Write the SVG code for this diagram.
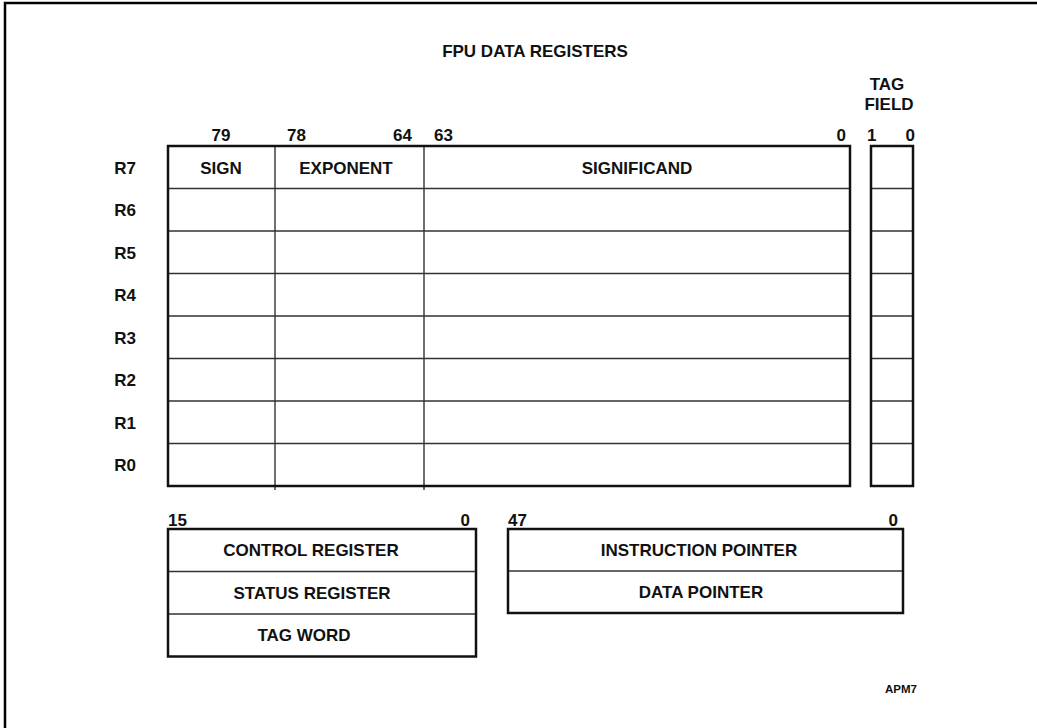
<svg xmlns="http://www.w3.org/2000/svg" width="1037" height="728" viewBox="0 0 1037 728">
<style>
text{font-family:"Liberation Sans",Arial,sans-serif;font-weight:bold;font-size:17px;fill:#111}
.m{text-anchor:middle}
.e{text-anchor:end}
.box{fill:none;stroke:#111;stroke-width:2.5}
.in{stroke:#333;stroke-width:1.4;fill:none}
.small{font-size:11.5px}
</style>
<rect width="1037" height="728" fill="#fff"/>
<g id="frame"><path d="M5 728 V3 H1037" fill="none" stroke="#000" stroke-width="2.5"/></g>
<text id="title" class="m" x="535" y="57">FPU DATA REGISTERS</text>
<g id="bit-labels">
<text class="m" x="221" y="141">79</text>
<text x="287" y="141">78</text>
<text class="e" x="412" y="141">64</text>
<text x="434" y="141">63</text>
<text class="e" x="846" y="141">0</text>
<text x="867" y="141">1</text>
<text class="e" x="915" y="141">0</text>
</g>
<g id="tag-field-label">
<text class="m" x="887" y="90">TAG</text>
<text class="m" x="889" y="110">FIELD</text>
</g>
<g id="row-labels">
<text class="m" x="125" y="173.5">R7</text>
<text class="m" x="125" y="216">R6</text>
<text class="m" x="125" y="258.5">R5</text>
<text class="m" x="125" y="301">R4</text>
<text class="m" x="125" y="343.5">R3</text>
<text class="m" x="125" y="386">R2</text>
<text class="m" x="125" y="428.5">R1</text>
<text class="m" x="125" y="471">R0</text>
</g>
<g id="data-registers">
<path class="in" d="M168 188.5H850M168 231H850M168 273.5H850M168 316H850M168 358.5H850M168 401H850M168 443.5H850"/>
<path class="in" d="M275 146V490M424 146V490"/>
<rect class="box" x="168" y="146" width="682" height="340"/>
<text class="m" x="221" y="173.5">SIGN</text>
<text class="m" x="346" y="173.5">EXPONENT</text>
<text class="m" x="637" y="173.5">SIGNIFICAND</text>
</g>
<g id="tag-field">
<path class="in" d="M871 188.5H913M871 231H913M871 273.5H913M871 316H913M871 358.5H913M871 401H913M871 443.5H913"/>
<rect class="box" x="871" y="146" width="42" height="340"/>
</g>
<g id="control-box">
<text x="168" y="526">15</text>
<text class="e" x="470" y="526">0</text>
<path class="in" d="M168 571.5H476M168 614H476"/>
<rect class="box" x="168" y="529" width="308" height="127.5"/>
<text class="m" x="311" y="556">CONTROL REGISTER</text>
<text class="m" x="312" y="598.5">STATUS REGISTER</text>
<text class="m" x="304" y="641">TAG WORD</text>
</g>
<g id="pointer-box">
<text x="508" y="526">47</text>
<text class="e" x="898" y="526">0</text>
<path class="in" d="M508 571H903"/>
<rect class="box" x="508" y="529" width="395" height="84"/>
<text class="m" x="699" y="556">INSTRUCTION POINTER</text>
<text class="m" x="701" y="598">DATA POINTER</text>
</g>
<text id="apm7" class="small" x="885" y="693">APM7</text>
</svg>
